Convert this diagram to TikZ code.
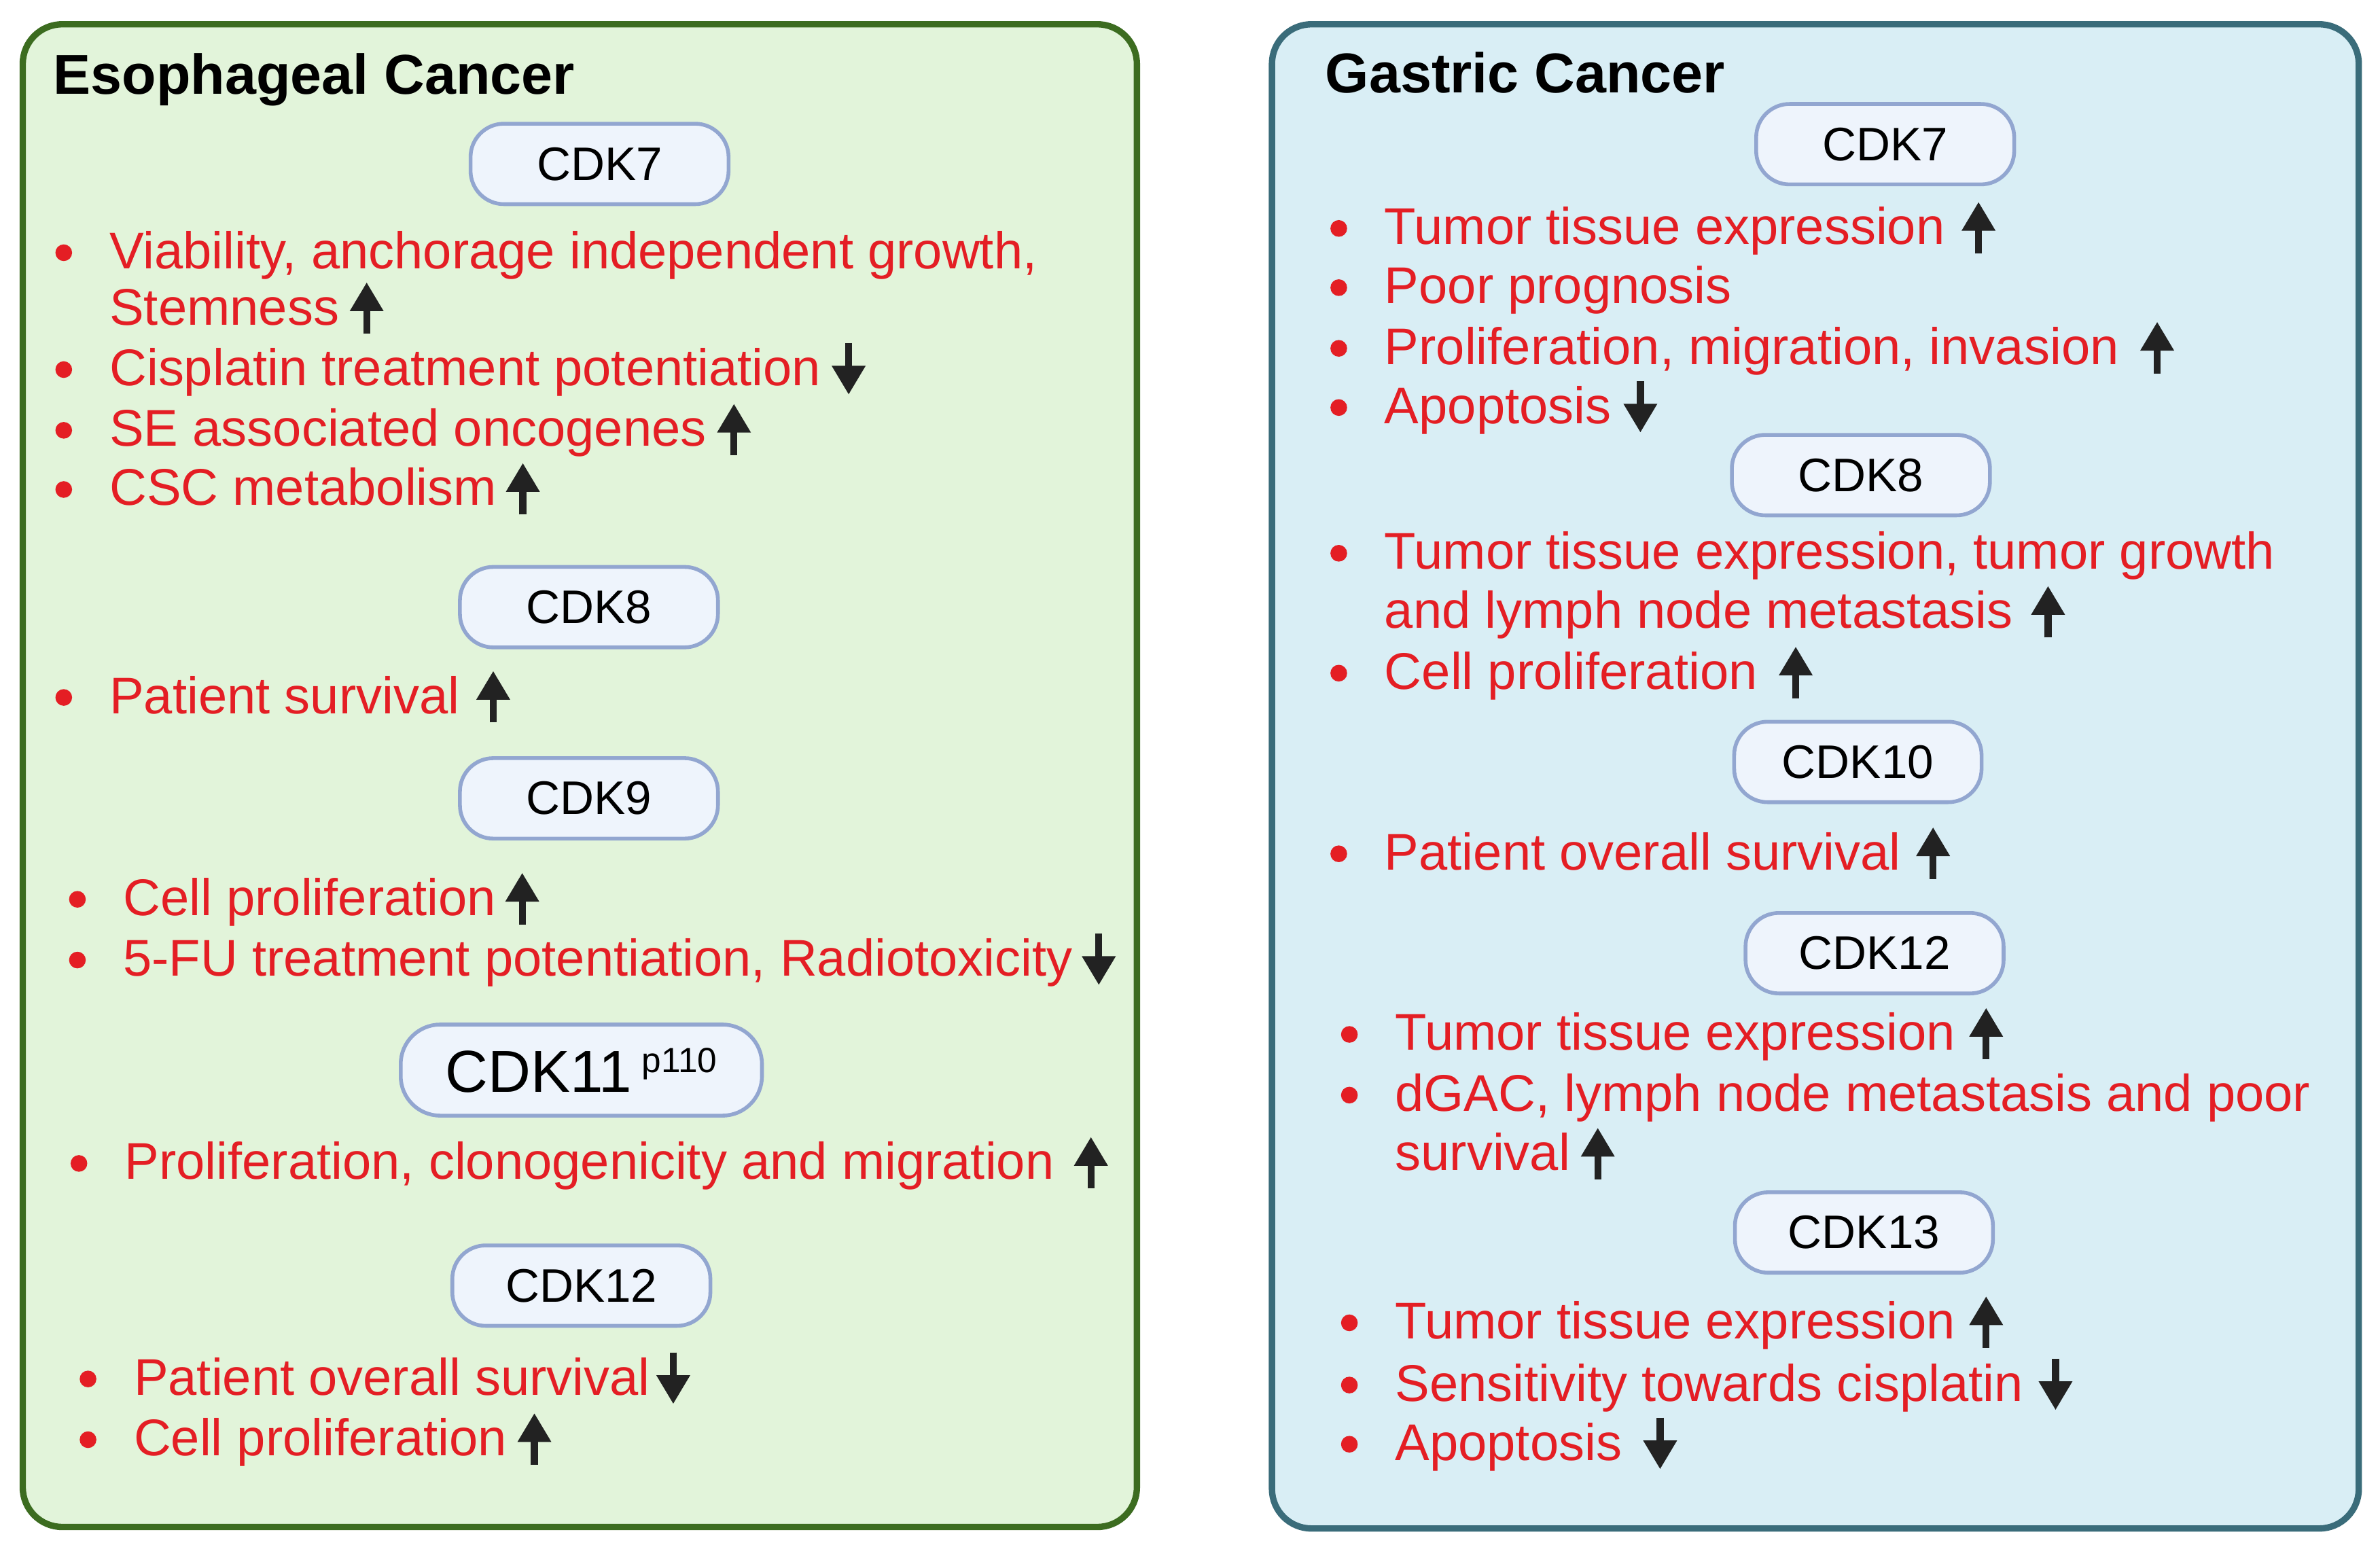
\documentclass[tikz,border=0pt]{standalone}
\usepackage{fontspec}
\setmainfont{Liberation Sans}
\usetikzlibrary{arrows.meta}
\definecolor{gfill}{RGB}{226,244,218}
\definecolor{gdraw}{RGB}{60,108,32}
\definecolor{bfill}{RGB}{217,238,245}
\definecolor{bdraw}{RGB}{58,108,122}
\definecolor{pfill}{RGB}{238,244,252}
\definecolor{pdraw}{RGB}{146,166,208}
\definecolor{tred}{RGB}{228,30,36}
\definecolor{ablack}{RGB}{34,34,34}
\newcommand\bul[1]{\fill[tred] ([xshift=-30pt,yshift=10.5pt]#1.base west) circle (5.5pt);}
\newcommand\upa[2]{\draw[arr] ([xshift=#2pt,yshift=-6pt]#1.base east) -- ++(0pt,34pt);}
\newcommand\dna[2]{\draw[arr] ([xshift=#2pt,yshift=28pt]#1.base east) -- ++(0pt,-34pt);}
\begin{document}
\begin{tikzpicture}[x=1pt,y=-1pt,
  panel/.style={line width=4.2pt,rounded corners=26pt},
  pill/.style={draw=pdraw,fill=pfill,line width=2.5pt,rounded corners=22pt,minimum width=170pt,minimum height=53pt,inner sep=0pt,font=\fontsize{31}{36}\selectfont,text=black},
  item/.style={anchor=base west,inner sep=0pt,text=tred,font=\fontsize{34}{40}\selectfont},
  ttl/.style={anchor=base west,inner sep=0pt,font=\bfseries\fontsize{37}{44}\selectfont},
  arr/.style={draw=ablack,line width=4.6pt,-{Triangle[width=21pt,length=19pt]}}]
\useasboundingbox (0,0) rectangle (1568,1030.4);
% panels
\draw[panel,draw=gdraw,fill=gfill] (15,16) rectangle (749,1006);
\draw[panel,draw=bdraw,fill=bfill] (838,16) rectangle (1554,1007);
% ---------- left ----------
\node[ttl] (tl) at (35,62) {Esophageal Cancer};
\node[pill] (l7) at (395,108) {CDK7};
\node[item] (a1) at (72,177) {Viability, anchorage independent growth,};
\node[item] (a2) at (72,214) {Stemness};
\node[item] (a3) at (72,254) {Cisplatin treatment potentiation};
\node[item] (a4) at (72,294) {SE associated oncogenes};
\node[item] (a5) at (72,333) {CSC metabolism};
\bul{a1}\bul{a3}\bul{a4}\bul{a5}
\upa{a2}{18}\dna{a3}{18}\upa{a4}{18}\upa{a5}{17}
\node[pill] (l8) at (388,400) {CDK8};
\node[item] (b1) at (72,470) {Patient survival};
\bul{b1}\upa{b1}{22}
\node[pill] (l9) at (388,526) {CDK9};
\node[item] (c1) at (81,603) {Cell proliferation};
\node[item] (c2) at (81,643) {5-FU treatment potentiation, Radiotoxicity};
\bul{c1}\bul{c2}\upa{c1}{17}\dna{c2}{17}
\node[pill,minimum width=238pt,minimum height=60pt,rounded corners=26pt] (l11) at (383,705) {\fontsize{39}{44}\selectfont CDK11\,\raisebox{13pt}{\fontsize{23}{26}\selectfont p110}};
\node[item] (d1) at (82,777) {Proliferation, clonogenicity and migration};
\bul{d1}\upa{d1}{24}
\node[pill] (l12) at (383,847) {CDK12};
\node[item] (e1) at (88,919) {Patient overall survival};
\node[item] (e2) at (88,959) {Cell proliferation};
\bul{e1}\bul{e2}\dna{e1}{15}\upa{e2}{18}
% ---------- right ----------
\node[ttl] (tr) at (873,61) {Gastric Cancer};
\node[pill] (r7) at (1242,95) {CDK7};
\node[item] (f1) at (912,161) {Tumor tissue expression};
\node[item] (f2) at (912,200) {Poor prognosis};
\node[item] (f3) at (912,240) {Proliferation, migration, invasion};
\node[item] (f4) at (912,279) {Apoptosis};
\bul{f1}\bul{f2}\bul{f3}\bul{f4}
\upa{f1}{22}\upa{f3}{25}\dna{f4}{19}
\node[pill] (r8) at (1226,313) {CDK8};
\node[item] (g1) at (912,375) {Tumor tissue expression, tumor growth};
\node[item] (g2) at (912,414) {and lymph node metastasis};
\node[item] (g3) at (912,454) {Cell proliferation};
\bul{g1}\bul{g3}\upa{g2}{23}\upa{g3}{25}
\node[pill,minimum width=163pt] (r10) at (1224,502) {CDK10};
\node[item] (h1) at (912,573) {Patient overall survival};
\bul{h1}\upa{h1}{21}
\node[pill] (r12) at (1235,628) {CDK12};
\node[item] (i1) at (919,692) {Tumor tissue expression};
\node[item] (i2) at (919,732) {dGAC, lymph node metastasis and poor};
\node[item] (i3) at (919,771) {survival};
\bul{i1}\bul{i2}\upa{i1}{20}\upa{i3}{18}
\node[pill] (r13) at (1228,812) {CDK13};
\node[item] (j1) at (919,882) {Tumor tissue expression};
\node[item] (j2) at (919,923) {Sensitivity towards cisplatin};
\node[item] (j3) at (919,962) {Apoptosis};
\bul{j1}\bul{j2}\bul{j3}
\upa{j1}{20}\dna{j2}{21}\dna{j3}{25}
\end{tikzpicture}
\end{document}
